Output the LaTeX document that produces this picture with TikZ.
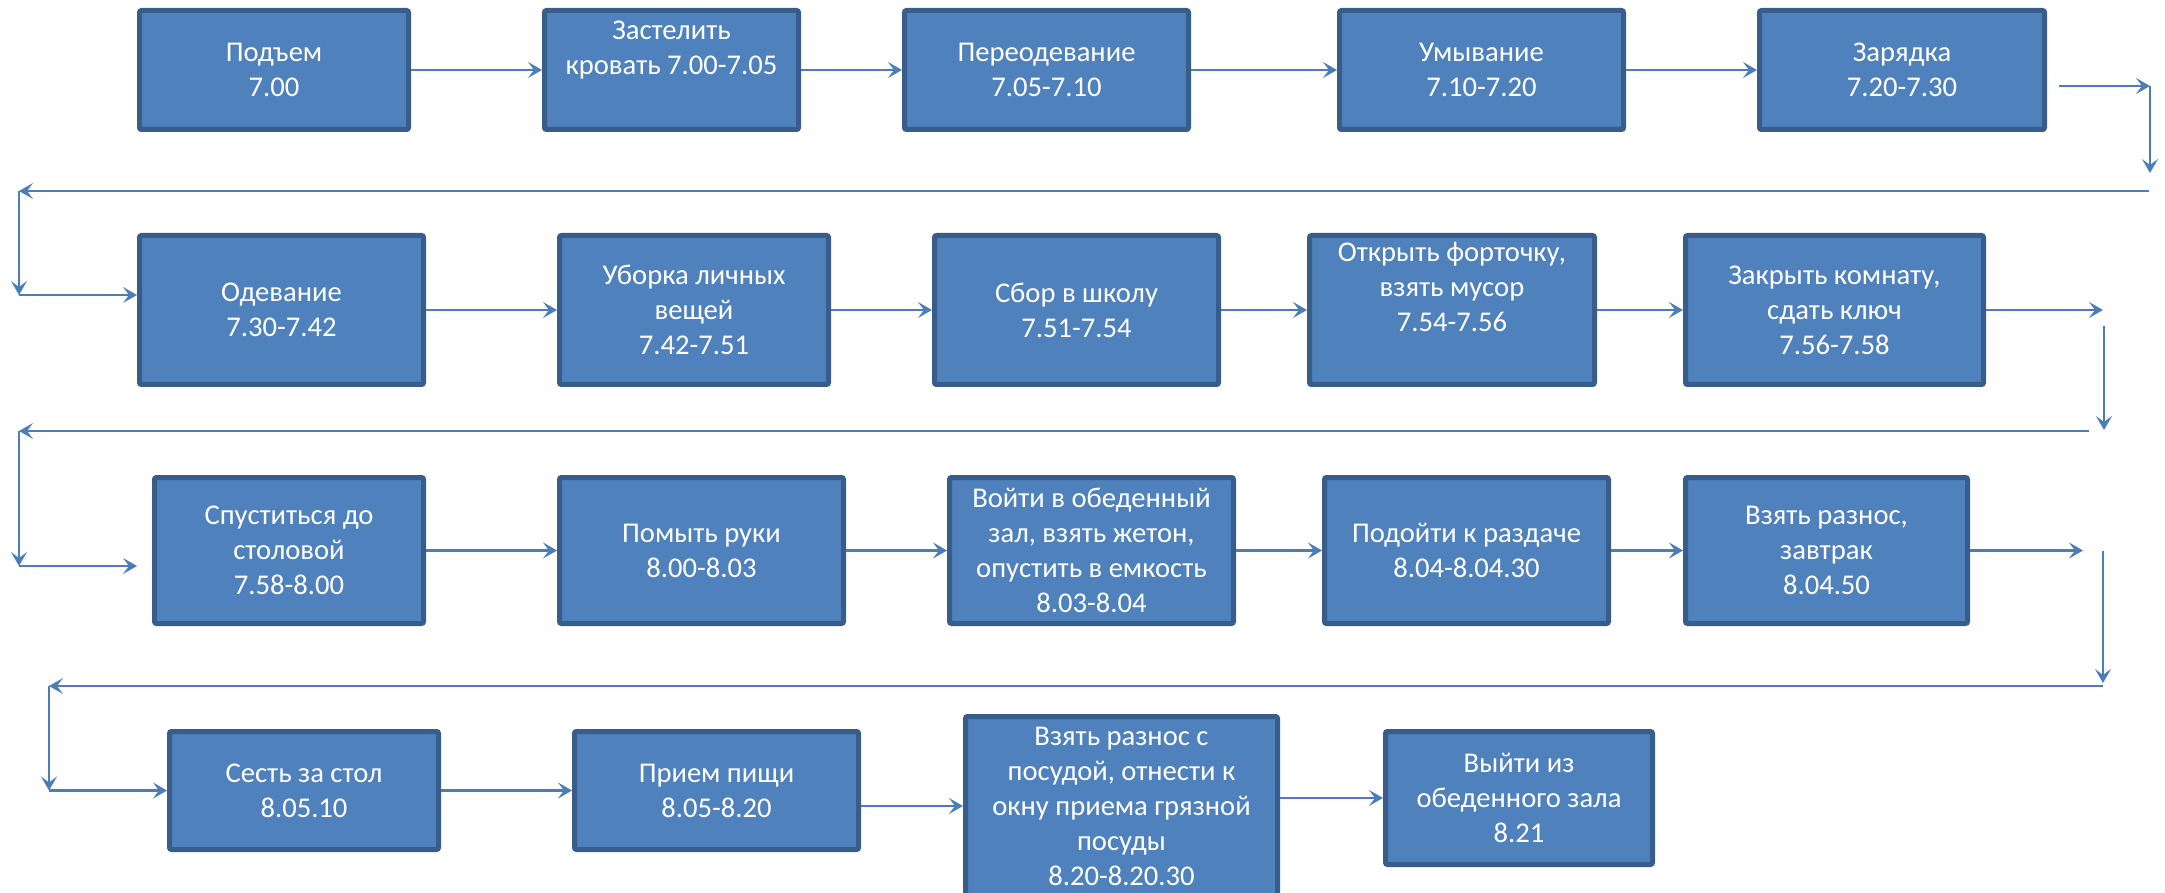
\documentclass[tikz,border=0pt]{standalone}
\usepackage{fontspec}
\setmainfont{Carlito}
\usetikzlibrary{arrows.meta,calc}
\definecolor{boxfill}{HTML}{4F81BD}
\definecolor{boxline}{HTML}{385D8A}
\definecolor{connc}{HTML}{4A7EBB}
\tikzset{
 box/.style={draw=boxline, fill=boxfill, line width=2.5pt, rounded corners=1pt, text=white, align=center, inner sep=1pt, font=\fontsize{14.3}{17.5}\selectfont},
 conn/.style={draw=connc, line width=1.3pt, -{Stealth[length=7pt,width=8pt,inset=3pt]}},
}
\begin{document}
\begin{tikzpicture}[x=0.5pt,y=-0.5pt]
\useasboundingbox (0,0) rectangle (2165,893);
% Row 1
\node[box, minimum width=134.5pt, minimum height=59.5pt] (podem) at (274,70) {Подъем\\7.00};
\node[box, minimum width=127pt, minimum height=59.5pt] (zastel) at (671.5,70) {Застелить\\кровать 7.00-7.05\\\strut};
\node[box, minimum width=142pt, minimum height=59.5pt] (pereod) at (1046.5,70) {Переодевание\\7.05-7.10};
\node[box, minimum width=142pt, minimum height=59.5pt] (umyv) at (1481.5,70) {Умывание\\7.10-7.20};
\node[box, minimum width=142.5pt, minimum height=59.5pt] (zaryad) at (1902,70) {Зарядка\\7.20-7.30};
% Row 2
\node[box, minimum width=142pt, minimum height=74.5pt] (odev) at (281.5,310) {Одевание\\7.30-7.42};
\node[box, minimum width=134.5pt, minimum height=74.5pt] (ubor) at (694,310) {Уборка личных\\вещей\\7.42-7.51};
\node[box, minimum width=142pt, minimum height=74.5pt] (sbor) at (1076.5,310) {Сбор в школу\\7.51-7.54};
\node[box, minimum width=142.5pt, minimum height=74.5pt] (otkr) at (1452,310) {Открыть форточку,\\взять мусор\\7.54-7.56\\\strut};
\node[box, minimum width=149pt, minimum height=74.5pt] (zakr) at (1834.5,310) {Закрыть комнату,\\сдать ключ\\7.56-7.58};
% Row 3
\node[box, minimum width=134.5pt, minimum height=73pt] (spust) at (289,550.5) {Спуститься до\\столовой\\7.58-8.00};
\node[box, minimum width=142pt, minimum height=73pt] (pomyt) at (701.5,550.5) {Помыть руки\\8.00-8.03};
\node[box, minimum width=142pt, minimum height=73pt] (voiti) at (1091.5,550.5) {Войти в обеденный\\зал, взять жетон,\\опустить в емкость\\8.03-8.04};
\node[box, minimum width=142pt, minimum height=73pt] (podoiti) at (1466.5,550.5) {Подойти к раздаче\\8.04-8.04.30};
\node[box, minimum width=141pt, minimum height=73pt] (vzav) at (1826.5,550.5) {Взять разнос,\\завтрак\\8.04.50};
% Row 4
\node[box, minimum width=134.5pt, minimum height=59pt] (sest) at (304,790.5) {Сесть за стол\\8.05.10};
\node[box, minimum width=142pt, minimum height=59pt] (priem) at (716.5,790.5) {Прием пищи\\8.05-8.20};
\node[box, minimum width=156pt, minimum height=89.5pt] (posud) at (1121.5,806) {Взять разнос с\\посудой, отнести к\\окну приема грязной\\посуды\\8.20-8.20.30};
\node[box, minimum width=133.5pt, minimum height=66.5pt] (vyiti) at (1519,798) {Выйти из\\обеденного зала\\8.21};
% free ends
\coordinate (r1a) at (2059,86);
\coordinate (r1b) at (2150,86);
\coordinate (r1c) at (2150,173);
\coordinate (l1r) at (2149,191);
\coordinate (l1l) at (19,191);
\coordinate (l1d) at (19,295);
\coordinate (r2b) at (2103,310);
\coordinate (r2t) at (2104,326);
\coordinate (r2d) at (2104,430);
\coordinate (l2r) at (2089,431);
\coordinate (l2l) at (19,431);
\coordinate (l2d) at (19,566);
\coordinate (l2e) at (137,566);
\coordinate (r3b) at (2083,550.5);
\coordinate (r3t) at (2103,550.5);
\coordinate (r3d) at (2103,683);
\coordinate (l3r) at (2103,686);
\coordinate (l3l) at (49,686);
\coordinate (l3d) at (49,790.5);
% Row 1 connectors
\draw[conn] (podem.east) -- (zastel.west);
\draw[conn] (zastel.east) -- (pereod.west);
\draw[conn] (pereod.east) -- (umyv.west);
\draw[conn] (umyv.east) -- (zaryad.west);
\draw[conn] (r1a) -- (r1b);
\draw[conn] (r1b) -- (r1c);
\draw[conn] (l1r) -- (l1l);
\draw[conn] (l1l) -- (l1d);
\draw[conn] (l1d) -- (l1d -| odev.west);
% Row 2 connectors
\draw[conn] (odev.east) -- (ubor.west);
\draw[conn] (ubor.east) -- (sbor.west);
\draw[conn] (sbor.east) -- (otkr.west);
\draw[conn] (otkr.east) -- (zakr.west);
\draw[conn] (zakr.east) -- (r2b);
\draw[conn] (r2t) -- (r2d);
\draw[conn] (l2r) -- (l2l);
\draw[conn] (l2l) -- (l2d);
\draw[conn] (l2d) -- (l2e);
% Row 3 connectors
\draw[conn] (spust.east) -- (pomyt.west);
\draw[conn] (pomyt.east) -- (voiti.west);
\draw[conn] (voiti.east) -- (podoiti.west);
\draw[conn] (podoiti.east) -- (vzav.west);
\draw[conn] (vzav.east) -- (r3b);
\draw[conn] (r3t) -- (r3d);
\draw[conn] (l3r) -- (l3l);
\draw[conn] (l3l) -- (l3d);
\draw[conn] (l3d) -- (sest.west);
% Row 4 connectors
\draw[conn] (sest.east) -- (priem.west);
\draw[conn] (priem.east |- posud.west) -- (posud.west);
\draw[conn] (posud.east |- vyiti.west) -- (vyiti.west);
\end{tikzpicture}
\end{document}
